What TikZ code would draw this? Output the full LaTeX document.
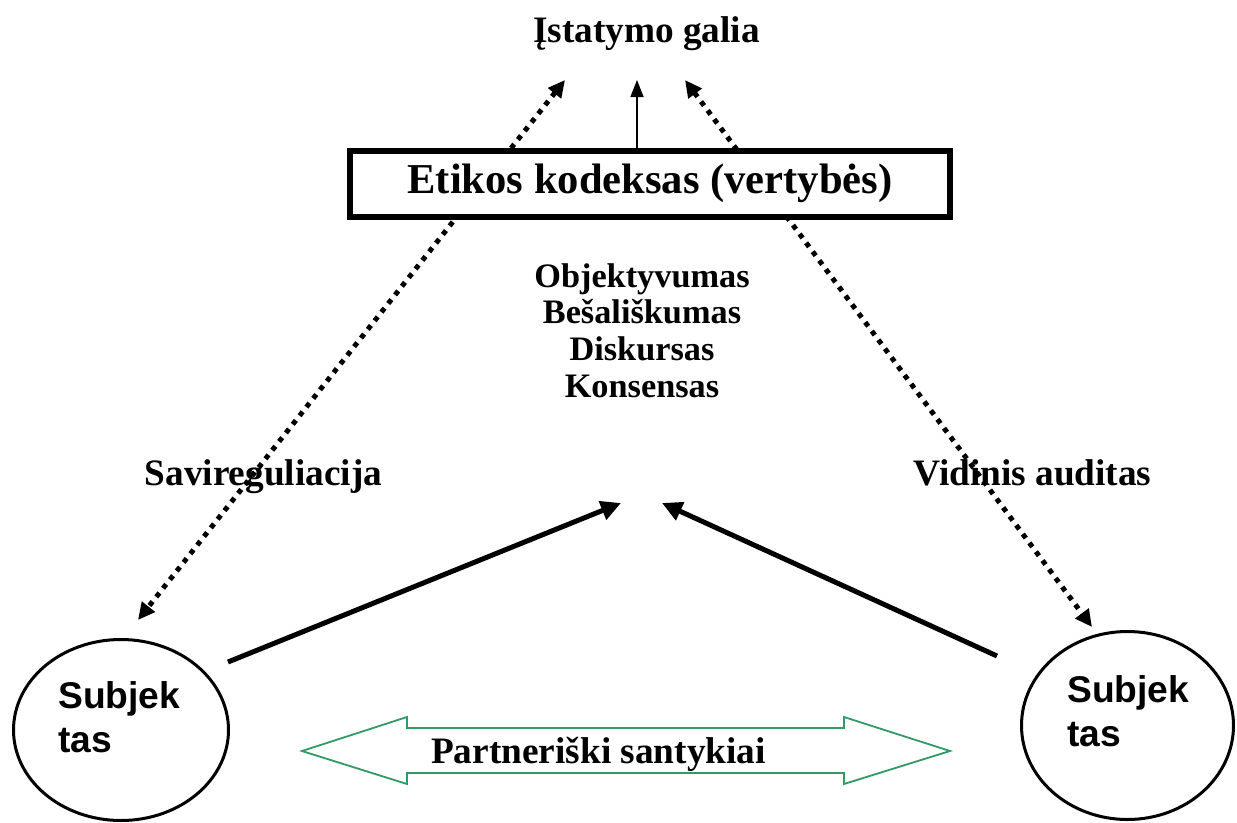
\documentclass[tikz,border=0pt]{standalone}
\usepackage{fontspec}
\setmainfont{Liberation Serif}
\newfontfamily\arialfont{Liberation Sans}
\usetikzlibrary{arrows.meta,shapes.geometric}

\definecolor{partnergreen}{RGB}{51,153,102}

\tikzset{
  lbl/.style={inner sep=0, anchor=base, font=\fontsize{37.3}{44}\selectfont\bfseries},
  valuelist/.style={inner sep=0, anchor=base, font=\fontsize{34.3}{36.7}\selectfont\bfseries},
  dotarrow/.style={line width=5pt, dash pattern=on 5pt off 6pt,
    {Triangle[length=17pt,width=16pt]}-{Triangle[length=17pt,width=16pt]}},
  thickarrow/.style={line width=5pt, -{Triangle[length=20pt,width=19pt]}},
  thinarrow/.style={line width=1.5pt, -{Triangle[length=17pt,width=13pt]}},
  codebox/.style={draw, line width=6pt, fill=white, minimum width=600pt,
    minimum height=66pt, inner sep=0, text height=30pt, text depth=12pt,
    font=\fontsize{42.6}{50}\selectfont\bfseries},
  subject/.style={draw, ellipse, line width=3pt, inner sep=0},
  subjtext/.style={inner sep=0, anchor=base west,
    font=\arialfont\fontsize{37.2}{44}\selectfont\bfseries},
  partner/.style={draw=partnergreen, line width=1.8pt, line join=miter},
}

\begin{document}
\begin{tikzpicture}[x=1pt, y=-1pt]
  \useasboundingbox (0,0) rectangle (1237,822);

  % end points of the connectors
  \coordinate (lawL) at (565,80);
  \coordinate (lawR) at (685,80);
  \coordinate (lawC) at (637,80);
  \coordinate (codeTop) at (637,151);
  \coordinate (subjLtip) at (138,620);
  \coordinate (subjRtip) at (1092,627);
  \coordinate (subjLout) at (228,662);
  \coordinate (subjRout) at (997,656);
  \coordinate (valL) at (621,503);
  \coordinate (valR) at (662,503);

  % title
  \node[lbl] (law) at (646.5,42) {Įstatymo galia};

  % dotted two-way arrows (passing behind the code box)
  \draw[dotarrow] (lawL) -- (subjLtip);
  \draw[dotarrow] (lawR) -- (subjRtip);

  % code of ethics -> law
  \draw[thinarrow] (codeTop) -- (lawC);
  \node[codebox] (code) at (650,184) {Etikos kodeksas (vertybės)};

  % values
  \node[valuelist] (values) at (642,287)
    {\begin{tabular}[t]{@{}c@{}}Objektyvumas\\Bešališkumas\\Diskursas\\Konsensas\end{tabular}};

  % side labels
  \node[lbl] (selfreg) at (263.5,485) {Savireguliacija};
  \node[lbl] (audit) at (1032.5,485) {Vidinis auditas};

  % subjects
  \node[subject, minimum width=215pt, minimum height=181pt] (subjL) at (121,730) {};
  \node[subject, minimum width=212pt, minimum height=188pt] (subjR) at (1127.5,725.5) {};
  \node[subjtext] (subjLtext) at (58,708)
    {\begin{tabular}[t]{@{}l@{}}Subjek\\tas\end{tabular}};
  \node[subjtext] (subjRtext) at (1067,702)
    {\begin{tabular}[t]{@{}l@{}}Subjek\\tas\end{tabular}};

  % subjects -> values
  \draw[thickarrow] (subjLout) -- (valL);
  \draw[thickarrow] (subjRout) -- (valR);

  % partnership double arrow
  \draw[partner] (302,751) -- (407,717) -- (407,728) -- (844,728) -- (844,717)
    -- (950,751) -- (844,784) -- (844,773) -- (407,773) -- (407,784) -- cycle;
  \node[lbl] (partners) at (598.5,763) {Partneriški santykiai};
\end{tikzpicture}
\end{document}
